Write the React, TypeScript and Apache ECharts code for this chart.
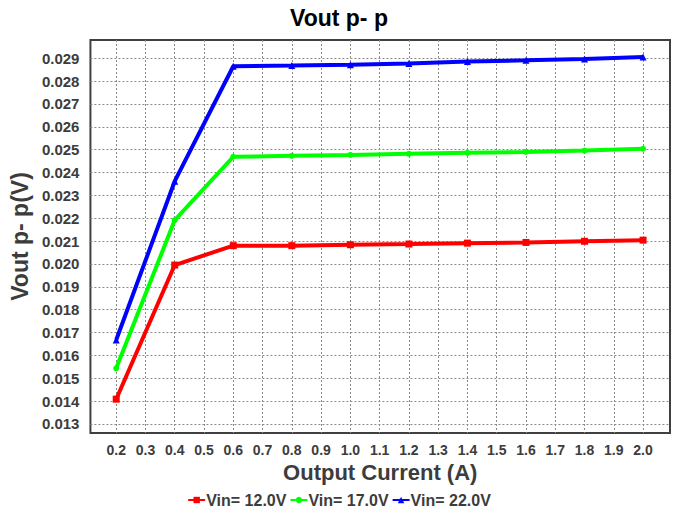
import React, { useEffect, useRef } from "react";
import * as echarts from "echarts";

const current = [0.2, 0.4, 0.6, 0.8, 1.0, 1.2, 1.4, 1.6, 1.8, 2.0];
const vin12 = [0.01408, 0.01995, 0.0208, 0.0208, 0.02084, 0.02087, 0.02091, 0.02094, 0.02099, 0.02104];
const vin17 = [0.01543, 0.02192, 0.02469, 0.02473, 0.02477, 0.02482, 0.02486, 0.0249, 0.02496, 0.02504];
const vin22 = [0.01667, 0.02362, 0.02865, 0.02868, 0.02872, 0.02877, 0.02886, 0.02891, 0.02897, 0.02906];
const xTicks = [0.2, 0.3, 0.4, 0.5, 0.6, 0.7, 0.8, 0.9, 1.0, 1.1, 1.2, 1.3, 1.4, 1.5, 1.6, 1.7, 1.8, 1.9, 2.0];
const yTicks = [0.013, 0.014, 0.015, 0.016, 0.017, 0.018, 0.019, 0.02, 0.021, 0.022, 0.023, 0.024, 0.025, 0.026, 0.027, 0.028, 0.029];
const seriesNames = ["Vin= 12.0V", "Vin= 17.0V", "Vin= 22.0V"];

const FONT = "'Liberation Sans', Arial, sans-serif";
const LABEL_COLOR = "#3c3c3c";

export default function App() {
  const ref = useRef<HTMLDivElement>(null);
  useEffect(() => {
    if (!ref.current) return;
    const chart = echarts.init(ref.current, null, { renderer: "svg" });
    const mk = (name: string, vals: number[], color: string, symbol: string, size: number) => ({
      name,
      type: "line",
      data: current.map((x, i) => [x, vals[i]]),
      symbol,
      symbolSize: size,
      itemStyle: { color },
      lineStyle: { color, width: 4 },
      clip: false,
    });
    const gridLine = { show: true, lineStyle: { color: "#8a8a8a", type: [2, 2], width: 1 } };
    chart.setOption({
      animation: false,
      backgroundColor: "#ffffff",
      textStyle: { fontFamily: FONT },
      title: {
        text: "Vout p- p",
        left: "center",
        top: 1,
        textStyle: { fontFamily: FONT, fontSize: 23, fontWeight: "bold", color: "#000" },
      },
      grid: {
        left: 86,
        top: 40,
        right: 8,
        bottom: 83,
        show: true,
        borderColor: "#404040",
        borderWidth: 2,
        containLabel: false,
      },
      legend: {
        top: 492,
        left: "center",
        padding: 0,
        itemWidth: 17,
        itemHeight: 8,
        itemGap: 3,
        textStyle: {
          fontFamily: FONT,
          fontSize: 16,
          fontWeight: "bold",
          color: LABEL_COLOR,
          padding: [0, 0, 0, -4],
        },
        data: seriesNames,
      },
      xAxis: {
        type: "value",
        min: 0.112,
        max: 2.092,
        name: "Output Current (A)",
        nameLocation: "middle",
        nameGap: 28,
        nameTextStyle: { fontFamily: FONT, fontSize: 22, fontWeight: "bold", color: LABEL_COLOR },
        axisLine: { show: false },
        axisTick: { show: false, customValues: xTicks },
        axisLabel: {
          customValues: xTicks,
          formatter: (v: number) => v.toFixed(1),
          fontFamily: FONT,
          fontSize: 14,
          fontWeight: "bold",
          color: LABEL_COLOR,
          margin: 10,
        },
        splitLine: gridLine,
      },
      yAxis: {
        type: "value",
        min: 0.0126,
        max: 0.0298,
        name: "Vout p- p(V)",
        nameLocation: "middle",
        nameGap: 50,
        nameTextStyle: { fontFamily: FONT, fontSize: 23, fontWeight: "bold", color: LABEL_COLOR },
        axisLine: { show: false },
        axisTick: { show: false, customValues: yTicks },
        axisLabel: {
          customValues: yTicks,
          formatter: (v: number) => v.toFixed(3),
          fontFamily: FONT,
          fontSize: 15,
          fontWeight: "bold",
          color: LABEL_COLOR,
          margin: 11,
        },
        splitLine: gridLine,
      },
      series: [
        mk(seriesNames[0], vin12, "#ff0000", "rect", 7),
        mk(seriesNames[1], vin17, "#00ff00", "circle", 6),
        mk(seriesNames[2], vin22, "#0000ff", "triangle", 7),
      ],
    });
    return () => chart.dispose();
  }, []);
  return (
    <div
      ref={ref}
      style={{ position: "absolute", left: 0, top: 0, width: 678, height: 516 }}
    />
  );
}
